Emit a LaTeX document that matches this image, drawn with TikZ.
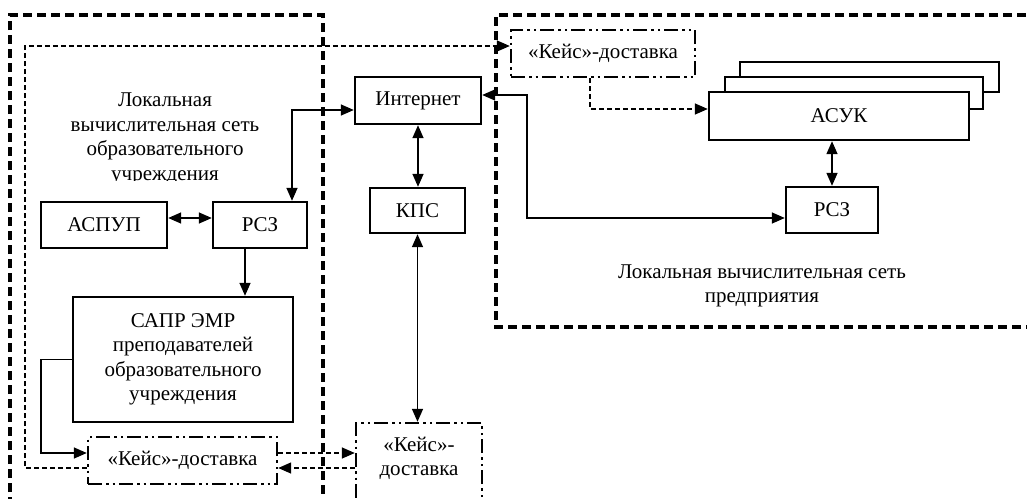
\documentclass[tikz,border=0pt]{standalone}
\usepackage{fontspec}
\setmainfont{Liberation Serif}
\usetikzlibrary{arrows.meta,calc}
\tikzset{
  txt/.style={font=\fontsize{21}{24.5}\selectfont, align=center, inner sep=0pt},
  box/.style={draw, line width=2.4pt, fill=white, inner sep=0pt, font=\fontsize{21}{24.5}\selectfont, align=center},
  ddbox/.style={draw, line width=2.4pt, fill=white, inner sep=0pt, font=\fontsize{21}{24.5}\selectfont, align=center,
    dash pattern=on 14pt off 4pt on 2.5pt off 4pt on 2.5pt off 4pt},
  frame/.style={line width=3.3pt, dash pattern=on 9pt off 5pt},
  conn/.style={line width=1.5pt, -{Triangle[length=13pt,width=11pt]}},
  dconn/.style={line width=1.5pt, -{Triangle[length=13pt,width=11pt]}},
  both/.style={line width=1.5pt, {Triangle[length=13pt,width=11pt]}-{Triangle[length=13pt,width=11pt]}},
  dsh/.style={dash pattern=on 5pt off 3pt},
}
\begin{document}
\begin{tikzpicture}[x=1pt,y=-1pt]
\useasboundingbox (0,0) rectangle (1027,498);
% frames
\draw[frame] (10,520) -- (10,15) -- (323,15) -- (323,520);
\draw[frame] (1040,15) -- (496,15) -- (496,327) -- (1040,327);
% labels
\begin{scope}
\clip (0,0) rectangle (323,180);
\node[txt] (lvs1) at (165,139) {Локальная\\вычислительная сеть\\образовательного\\учреждения};
\end{scope}
\node[txt] (lvs2) at (762,286) {Локальная вычислительная сеть\\предприятия};
% nodes
\node[box, minimum width=126pt, minimum height=47pt] (internet) at (418,100.5) {Интернет};
\node[box, minimum width=95pt, minimum height=45pt] (kps) at (417.5,210.5) {КПС};
\node[box, minimum width=94pt, minimum height=46pt] (rsz1) at (260,225) {РСЗ};
\node[box, minimum width=126pt, minimum height=46pt] (aspup) at (104,225) {АСПУП};
\node[box, minimum width=220pt, minimum height=125pt] (sapr) at (183,359.5) {САПР ЭМР\\преподавателей\\образовательного\\учреждения};
\node[ddbox, minimum width=189pt, minimum height=47pt] (case1) at (182.5,460.5) {«Кейс»-доставка};
\node[ddbox, minimum width=126pt, minimum height=90pt] (case2) at (419,468) {};
\node[txt] (case2text) at (419,458.5) {«Кейс»-\\доставка};
\node[ddbox, minimum width=184pt, minimum height=47pt] (case3) at (603,53.5) {«Кейс»-доставка};
\draw[line width=2.2pt, fill=white] (740,62) rectangle (999,92);
\draw[line width=2.2pt, fill=white] (725,77) rectangle (983,109);
\node[box, minimum width=260pt, minimum height=48pt] (asuk) at (839,116) {АСУК};
\node[box, minimum width=92pt, minimum height=46pt] (rsz2) at (832,210) {РСЗ};
% connectors
\draw[both] ([yshift=-9.5pt]internet.west) -| ([xshift=32pt]rsz1.north);
\draw[both] ([yshift=5.5pt]internet.east) -- ++(45,0) |- ([yshift=-8pt]rsz2.west);
\draw[both] (internet.south) -- (internet.south |- kps.north);
\draw[both] (kps.south) -- (kps.south |- case2.north);
\draw[both] (rsz2.north |- asuk.south) -- (rsz2.north);
\draw[both] ([yshift=7pt]aspup.east) -- ([yshift=7pt]rsz1.west);
\draw[conn] ([xshift=-15pt]rsz1.south) -- ([xshift=-15pt]rsz1.south |- sapr.north);
\draw[conn] (sapr.west) -- ++(-31,0) |- ([yshift=7.5pt]case1.west);
\draw[dconn, dsh] ([yshift=7.5pt]case1.east) -- ([yshift=7.5pt]case1.east -| case2.west);
\draw[dconn, dsh] ([yshift=-7.5pt]case1.east -| case2.west) -- ([yshift=-7.5pt]case1.east);
\draw[dconn, dsh] ([yshift=-7.5pt]case1.west) -- ++(-62,0) |- ([yshift=7.5pt]case3.west);
\draw[dconn, dsh] ([xshift=-13pt]case3.south) |- ([yshift=7pt]asuk.west);
\end{tikzpicture}
\end{document}
